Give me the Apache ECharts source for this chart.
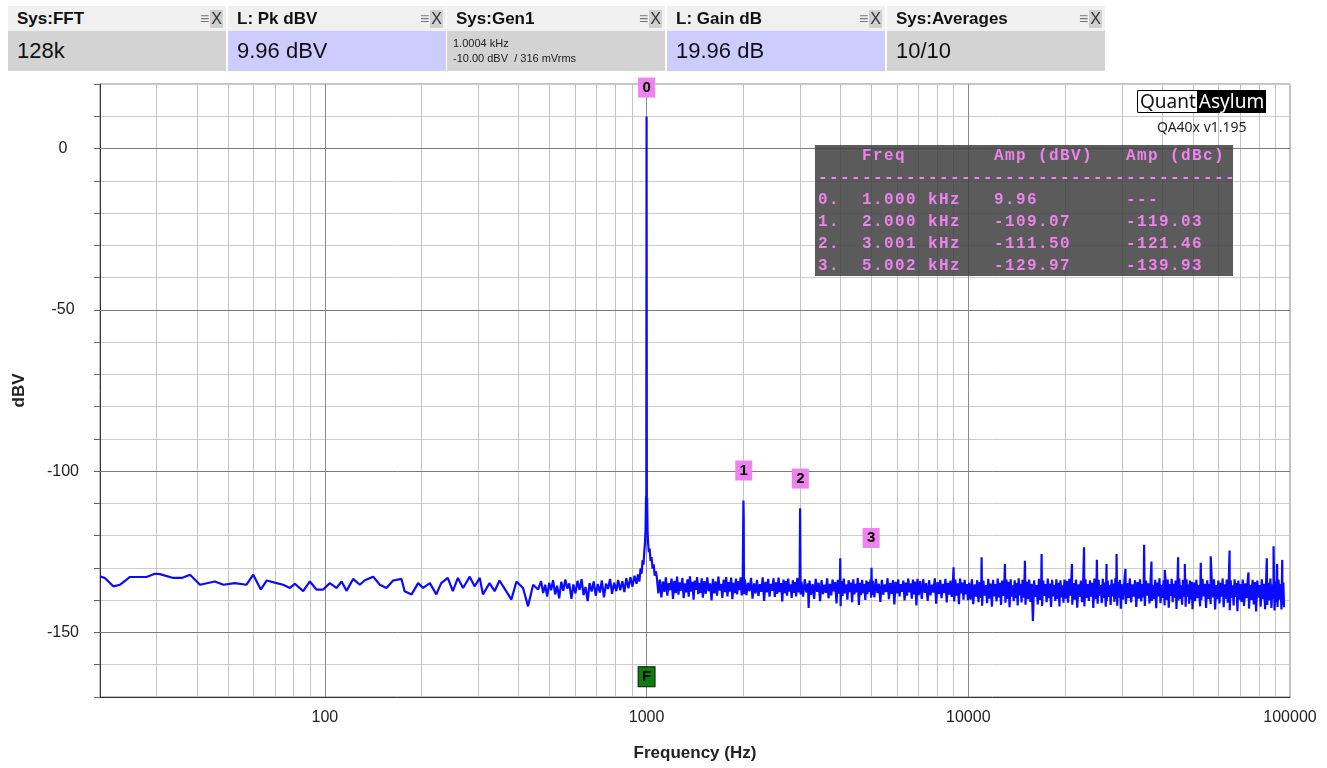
<!DOCTYPE html>
<html><head><meta charset="utf-8">
<script src="https://cdn.jsdelivr.net/npm/echarts@6/dist/echarts.min.js"></script>
<style>
body{margin:0;background:#fff;font-family:"Liberation Sans",Arial,sans-serif;}
#wrap{position:relative;width:1327px;height:768px;overflow:hidden;background:#fff;}
#chart{position:absolute;left:0;top:0;width:1327px;height:768px;}
.panel{position:absolute;top:6px;width:218px;height:65px;}
.ph{height:25px;background:#f0f0f0;position:relative;}
.ph .t{position:absolute;left:9px;top:3px;font-weight:bold;font-size:17px;color:#111;}
.ph .ic{position:absolute;right:3px;top:4px;font-size:16px;color:#777;}
.ph .ic b{display:inline-block;background:#d0d0d0;color:#333;font-weight:normal;padding:0 1px;margin-left:1px;}
.pv{height:40px;background:#d3d3d3;position:relative;}
.pv.blue{background:#ccccff;}
.pv .v{position:absolute;left:9px;top:7px;font-size:22px;color:#111;}
.pv .s{position:absolute;left:6px;top:5px;font-size:11px;line-height:15px;color:#222;}
#table{position:absolute;left:815px;top:145px;width:418px;height:131px;background:rgba(64,64,64,0.86);overflow:hidden;}
#table pre{margin:0;padding:0 0 0 3px;font-family:"Liberation Mono","Courier New",monospace;font-weight:bold;font-size:16px;letter-spacing:1.4px;line-height:22px;color:#ee82ee;}
#logo{position:absolute;left:1137px;top:90px;height:23px;display:flex;font-family:"Noto Sans","Open Sans",sans-serif;font-size:19px;line-height:21px;}
#logo .q{border:1px solid #000;border-right:none;background:#fff;color:#111;padding:0 1px 0 2px;border-radius:2px 0 0 2px;}
#logo .a{background:#000;color:#fff;padding:1px 2px;}
#ver{position:absolute;left:1157px;top:117px;font-family:"Noto Sans","Open Sans",sans-serif;font-size:14px;color:#222;}
</style></head>
<body><div id="wrap">
<div id="chart"></div>
<div id="panels"></div>
<div id="logo"><span class="q">Quant</span><span class="a">Asylum</span></div>
<div id="ver">QA40x v1.195</div>
<div id="table"><pre id="tpre"></pre></div>
</div>
<script>
// ---------- data: [frequency Hz, level dBV] ----------
const lowBand = [[20,-132.6],[20.7,-133.1],[22,-135.7],[23.1,-135.2],[24.8,-132.8],[27.9,-132.8],[29.6,-131.8],[30.7,-131.9],[33.8,-133.1],[35.9,-133.1],[38.1,-132.1],[40.9,-135.2],[45.5,-134.2],[48.4,-135.2],[52.5,-134.7],[57.1,-135.2],[59.9,-132.1],[63.2,-136.7],[65.9,-133.9],[70.8,-134.7],[74.2,-135.2],[77.9,-136.2],[80.7,-134.9],[85.6,-137.2],[89.8,-134.2],[94.2,-136.7],[98.8,-136.7],[103.6,-134.7],[108.7,-136.2],[112.7,-134.2],[116.8,-137.1],[122.4,-133.4],[128.4,-135.2],[133.1,-133.8],[141.3,-132.7],[148.2,-135.2],[155.4,-136.2],[163,-133.9],[173,-133.4],[177,-137.2],[186,-138.2],[195,-134.7],[202,-136.2],[212,-134.7],[222,-138.2],[230,-134.7],[241,-133.1],[250,-137.2],[259,-133.1],[269,-136.2],[282,-132.7],[292,-135.7],[303,-133.1],[310,-138.2],[325,-134.7],[337,-137.2],[349,-133.9],[366,-137.2],[380,-139.8],[394,-134.2],[413,-136.2],[428,-141.9],[444,-135.2],[460,-136.7]];
const midBand = [[470,-134.1],[477,-137.8],[484,-135.2],[491,-138.9],[498,-134.6],[505,-136.9],[512,-133.8],[520,-138.2],[527,-135.5],[535,-139.4],[543,-134.3],[551,-137.1],[559,-133.6],[567,-136.4],[575,-134.8],[584,-139.6],[592,-135.1],[601,-137.9],[610,-134.0],[619,-136.8],[628,-133.5],[637,-138.4],[646,-135.9],[656,-140.3],[665,-134.7],[675,-137.3],[685,-134.2],[695,-138.6],[705,-135.0],[716,-137.6],[726,-133.9],[737,-139.1],[748,-134.9],[759,-136.5],[770,-133.4],[781,-138.0],[793,-134.6],[805,-137.2],[816,-133.7],[828,-136.9],[841,-134.1],[853,-137.5],[865,-133.2],[878,-136.3],[891,-132.9],[904,-135.8],[917,-132.4],[931,-134.9]];
const skirt = [[940,-132.0],[950,-134.2],[958,-130.1],[965,-131.8],[972,-127.6],[978,-129.0],[984,-124.8],[989,-122.0],[993,-117.9],[996,-107.8],[998,-112.5],[1000,9.96],[1002,-113.0],[1004,-108.2],[1007,-118.4],[1011,-122.3],[1016,-125.1],[1022,-124.0],[1029,-127.8],[1036,-126.6],[1044,-130.2],[1052,-128.9],[1060,-132.4],[1068,-131.0]];
const band1k = [[1076,-132.8],[1088,-137.9],[1100,-133.6],[1112,-139.1],[1124,-134.2],[1136,-137.4],[1148,-132.9],[1160,-138.6],[1172,-134.7],[1184,-136.9],[1196,-133.3],[1208,-139.6],[1220,-134.0],[1232,-137.8],[1244,-132.7],[1256,-138.3],[1268,-134.5],[1280,-137.1],[1292,-133.1],[1304,-139.4],[1316,-134.8],[1328,-137.6],[1340,-133.5],[1352,-138.9],[1364,-132.6],[1376,-137.3],[1388,-134.3],[1400,-139.8],[1412,-133.9],[1424,-136.8],[1436,-132.8],[1448,-138.1],[1460,-134.6],[1472,-137.7],[1484,-133.2],[1496,-139.2],[1512,-134.1],[1528,-138.0],[1544,-132.9],[1560,-137.2],[1576,-134.8],[1592,-140.1],[1608,-133.4],[1624,-137.9],[1640,-134.2],[1656,-138.6],[1672,-132.7],[1688,-137.0],[1704,-134.9],[1720,-139.3],[1736,-133.6],[1752,-137.5],[1768,-132.8],[1784,-138.8],[1800,-134.4],[1816,-137.3],[1832,-133.0],[1848,-139.7],[1864,-134.6],[1880,-137.8],[1896,-133.3],[1912,-138.2],[1928,-134.1],[1944,-136.9],[1960,-132.9],[1976,-138.5],[1990,-134.0],[2000,-109.07],[2004,-114.2],[2008,-138.1]];
const band2k = [[2020,-133.5],[2043,-138.4],[2066,-134.6],[2089,-137.2],[2112,-133.1],[2135,-139.5],[2158,-134.8],[2181,-137.9],[2204,-133.7],[2227,-138.7],[2250,-135.0],[2273,-137.4],[2296,-132.9],[2319,-140.2],[2342,-134.3],[2365,-137.6],[2388,-133.4],[2411,-138.9],[2434,-134.9],[2457,-137.1],[2480,-133.2],[2503,-139.0],[2526,-134.5],[2549,-138.0],[2572,-133.0],[2595,-137.5],[2618,-134.7],[2641,-140.4],[2664,-133.6],[2687,-137.8],[2710,-134.1],[2733,-138.6],[2756,-133.3],[2779,-137.3],[2802,-135.1],[2825,-139.3],[2848,-133.8],[2871,-137.7],[2894,-134.4],[2917,-138.8],[2940,-133.1],[2963,-137.6],[2990,-134.6],[3001,-111.5],[3012,-138.2]];
const band3k = [[3030,-134.2],[3066,-138.9],[3102,-133.5],[3138,-137.6],[3174,-134.8],[3190,-142.4],[3210,-133.9],[3246,-138.3],[3282,-135.0],[3318,-139.6],[3354,-133.4],[3390,-137.4],[3426,-134.6],[3462,-140.3],[3498,-133.8],[3534,-138.1],[3570,-135.2],[3606,-137.7],[3642,-133.2],[3678,-139.4],[3714,-134.9],[3750,-138.5],[3786,-133.6],[3822,-137.3],[3858,-134.4],[3894,-141.0],[3930,-133.7],[3966,-138.0],[3990,-134.7],[4000,-127.0],[4010,-141.9],[4030,-134.1],[4066,-138.7],[4102,-133.3],[4138,-137.9],[4174,-135.1],[4210,-139.8],[4246,-133.8],[4282,-137.5],[4318,-134.5],[4354,-140.6],[4390,-133.5],[4426,-138.2],[4462,-134.9],[4498,-137.6],[4534,-133.1],[4570,-141.5],[4606,-134.6],[4642,-138.4],[4678,-133.7],[4714,-137.8],[4750,-135.0],[4786,-139.9],[4822,-133.9],[4858,-138.1],[4894,-134.3],[4930,-137.4],[4966,-133.6],[4990,-139.2],[5002,-129.97],[5020,-138.4]];
const band5k = [[5050,-134.0],[5106,-139.1],[5162,-133.4],[5218,-137.8],[5274,-134.9],[5330,-140.5],[5386,-133.7],[5442,-138.3],[5498,-135.1],[5554,-137.5],[5610,-133.2],[5666,-139.7],[5722,-134.6],[5778,-138.0],[5834,-133.8],[5890,-141.3],[5946,-134.3],[6002,-137.9],[6058,-133.5],[6114,-138.8],[6170,-135.0],[6226,-137.4],[6282,-133.9],[6338,-140.1],[6394,-134.5],[6450,-138.6],[6506,-133.3],[6562,-137.6],[6618,-134.8],[6674,-139.5],[6730,-133.6],[6786,-138.2],[6842,-134.2],[6898,-141.6],[6954,-133.4],[7010,-138.4],[7088,-134.1],[7166,-139.6],[7244,-133.5],[7322,-137.7],[7400,-134.7],[7478,-140.2],[7556,-133.8],[7634,-138.5],[7712,-135.2],[7790,-137.6],[7868,-133.2],[7946,-141.1],[8024,-134.4],[8102,-138.1],[8180,-133.7],[8258,-139.4],[8336,-134.9],[8414,-137.8],[8492,-133.4],[8570,-140.7],[8648,-134.6],[8726,-138.3],[8804,-133.9],[8882,-139.0],[8960,-134.2],[9000,-129.8],[9040,-140.4],[9118,-133.6],[9196,-138.6],[9274,-134.8],[9352,-141.2],[9430,-133.3],[9508,-137.9],[9586,-134.5],[9664,-139.8],[9742,-133.7],[9820,-138.2],[9898,-135.0],[9976,-140.0]];
const band10k = [[10060,-134.6],[10160,-139.8],[10260,-133.5],[10360,-141.2],[10460,-135.1],[10560,-138.9],[10660,-133.8],[10760,-140.6],[10860,-134.4],[10960,-139.3],[11000,-126.7],[11040,-141.7],[11140,-133.9],[11240,-138.6],[11340,-135.3],[11440,-140.9],[11540,-133.4],[11640,-139.5],[11740,-134.8],[11840,-142.0],[11940,-133.7],[12040,-138.8],[12140,-135.0],[12240,-140.4],[12340,-133.3],[12440,-139.1],[12540,-134.6],[12640,-141.5],[12740,-133.9],[12840,-138.7],[12940,-135.2],[13000,-128.8],[13040,-140.8],[13140,-133.6],[13240,-139.6],[13340,-134.3],[13440,-142.2],[13540,-133.5],[13640,-138.9],[13740,-135.4],[13840,-140.3],[13940,-133.8],[14040,-139.4],[14140,-134.7],[14240,-141.6],[14340,-133.2],[14440,-138.5],[14540,-134.9],[14640,-140.7],[14740,-133.7],[14840,-139.2],[14940,-135.1],[15000,-127.8],[15060,-141.4],[15180,-134.2],[15320,-139.7],[15460,-133.6],[15600,-140.5],[15740,-134.9],[15880,-146.4],[16020,-133.8],[16160,-139.0],[16300,-135.3],[16440,-141.3],[16580,-133.4],[16720,-139.9],[16860,-134.5],[16900,-125.7],[16960,-141.8],[17100,-133.9],[17240,-138.7],[17380,-135.0],[17520,-140.6],[17660,-133.3],[17800,-139.4],[17940,-134.8],[18080,-142.1],[18220,-133.7],[18360,-138.8],[18500,-135.2],[18640,-140.2],[18780,-133.5],[18920,-139.6],[19060,-134.6],[19200,-141.9],[19340,-133.8],[19480,-139.1],[19620,-135.4],[19760,-140.8],[19900,-133.6]];
const band20k = [[20040,-139.5],[20230,-134.0],[20420,-140.8],[20610,-133.4],[20800,-138.6],[21000,-128.8],[21050,-141.4],[21240,-134.7],[21430,-139.8],[21620,-133.6],[21810,-142.3],[22000,-135.1],[22190,-139.0],[22380,-133.9],[22570,-140.6],[22760,-134.4],[22900,-123.6],[22950,-141.9],[23140,-133.5],[23330,-139.3],[23520,-135.0],[23710,-140.2],[23900,-133.8],[24090,-138.9],[24280,-134.6],[24470,-142.4],[24660,-133.3],[24850,-139.7],[25040,-134.9],[25100,-127.5],[25230,-141.1],[25420,-133.7],[25610,-138.7],[25800,-135.3],[25990,-140.9],[26180,-133.4],[26370,-139.4],[26560,-134.5],[26750,-142.0],[26900,-128.8],[26940,-140.3],[27130,-133.9],[27320,-139.0],[27510,-135.2],[27700,-141.5],[27890,-133.6],[28080,-138.8],[28270,-134.8],[28460,-140.5],[28650,-133.2],[28840,-139.6],[28900,-125.7],[29030,-141.7],[29220,-134.3],[29410,-139.2],[29600,-133.7],[29790,-142.6],[29980,-135.0],[30280,-139.8],[30580,-133.6],[30800,-130.3],[30880,-141.2],[31180,-134.7],[31480,-139.4],[31780,-133.3],[32080,-140.7],[32380,-135.1],[32680,-138.9],[32980,-133.8],[33280,-142.1],[33580,-134.4],[33880,-139.5],[34180,-133.5],[34480,-140.4],[34780,-135.0],[35080,-139.1],[35200,-122.8],[35380,-141.8],[35680,-133.9],[35980,-138.6],[36280,-134.8],[36580,-141.0],[36880,-133.4],[37100,-128.0],[37180,-140.2],[37480,-135.2],[37780,-139.7],[38080,-133.7],[38380,-142.5],[38680,-134.5],[38980,-138.8],[39280,-133.2],[39580,-140.9],[39880,-135.3],[40180,-139.3],[40480,-133.8],[40780,-141.6],[40800,-130.6],[41080,-134.2],[41380,-139.9],[41680,-133.6],[41980,-142.3],[42280,-135.0],[42580,-138.7],[42880,-133.4],[43180,-140.6],[43480,-134.9],[43780,-139.2],[44080,-133.9],[44380,-142.7],[44680,-134.6],[44900,-126.7],[44980,-140.1],[45280,-133.3],[45580,-139.6],[45880,-135.4],[46180,-141.4],[46480,-133.7],[46780,-139.0],[47080,-134.8],[47100,-128.8],[47380,-142.0],[47680,-133.5],[47980,-138.9],[48280,-135.1],[48580,-141.1],[48880,-133.9],[49180,-139.8],[49480,-134.3],[49780,-142.8]];
const band50k = [[50240,-134.5],[50700,-140.3],[51160,-133.7],[51620,-139.4],[52080,-135.2],[52540,-141.9],[52800,-128.4],[53000,-140.0],[53460,-133.4],[53920,-138.8],[54380,-134.9],[54840,-142.4],[55300,-133.8],[55760,-139.6],[56220,-135.0],[56680,-141.2],[56700,-126.4],[57140,-134.1],[57600,-139.1],[58060,-133.5],[58520,-142.9],[58980,-135.3],[59440,-139.7],[59900,-133.9],[60360,-141.0],[60820,-134.6],[61280,-138.9],[61740,-133.3],[62200,-142.2],[62660,-135.1],[63120,-139.5],[63580,-133.6],[64040,-140.8],[64500,-134.4],[64900,-124.6],[64960,-143.1],[65420,-133.8],[65880,-139.3],[66340,-135.4],[66800,-141.6],[67260,-133.5],[67720,-139.0],[68180,-134.7],[68640,-143.4],[69100,-133.9],[69560,-139.8],[70020,-135.0],[70670,-140.5],[71320,-133.6],[71970,-141.8],[72620,-134.8],[73270,-139.4],[73920,-133.4],[74300,-131.4],[74570,-142.6],[75220,-135.2],[75870,-139.9],[76520,-133.7],[77170,-141.3],[77820,-134.4],[78470,-143.5],[79120,-133.9],[79770,-139.2],[80420,-135.3],[81070,-142.0],[81720,-133.5],[82370,-139.7],[83020,-134.9],[83670,-142.8],[84320,-133.8],[84700,-127.0],[84970,-141.5],[85620,-134.6],[86270,-140.1],[86920,-133.3],[87570,-142.4],[88220,-135.1],[88870,-139.6],[88900,-123.3],[89520,-143.2],[90170,-134.2],[90820,-140.7],[91200,-128.8],[91470,-142.1],[92120,-133.6],[92770,-139.8],[93420,-135.0],[94070,-142.9],[94600,-127.5],[94720,-141.3],[95370,-134.5],[95800,-142.2]];

const markerLabels = ['0','1','2','3','F'];
const markerFreqs  = [1000, 2005, 3006, 4990, 1000];
const markerDbv    = [18.9, -99.8, -102.3, -120.7, -163.7];

const minorFreqs = [30,40,50,60,70,80,90,200,300,400,500,600,700,800,900,2000,3000,4000,5000,6000,7000,8000,9000,20000,30000,40000,50000,60000,70000,80000,90000];
const decadeFreqs = [100,1000,10000];
const xTickLabels = [100,1000,10000,100000];
const majorDbv = [-150,-100,-50,0];

const tableIdx  = ['0.','1.','2.','3.'];
const tableFreq = ['1.000','2.000','3.001','5.002'];
const tableDbv  = ['9.96','-109.07','-111.50','-129.97'];
const tableDbc  = ['---','-119.03','-121.46','-139.93'];

const panelTitles = ['Sys:FFT','L: Pk dBV','Sys:Gen1','L: Gain dB','Sys:Averages'];
const panelValues = ['128k','9.96 dBV','','19.96 dB','10/10'];
const genLines = ['1.0004 kHz','-10.00 dBV &nbsp;/ 316 mVrms'];

// ---------- header panels ----------
const panelLeft = [8,228,447,667,887];
const panelBlue = [false,true,false,true,false];
let ph = '';
panelTitles.forEach((t,i)=>{
  const val = i===2 ? `<div class="s">${genLines[0]}<br>${genLines[1]}</div>` : `<div class="v">${panelValues[i]}</div>`;
  ph += `<div class="panel" style="left:${panelLeft[i]}px"><div class="ph"><span class="t">${t}</span><span class="ic">&#8801;<b>X</b></span></div><div class="pv${panelBlue[i]?' blue':''}">${val}</div></div>`;
});
document.getElementById('panels').innerHTML = ph;

// ---------- harmonic table ----------
function pad(s,n){ while(s.length<n) s+=' '; return s; }
let lines = [];
lines.push(pad('',4)+pad('Freq',12)+pad('Amp (dBV)',12)+'Amp (dBc)');
lines.push('-'.repeat(38));
tableIdx.forEach((k,i)=>{
  lines.push(pad(k,4)+pad(tableFreq[i]+' kHz',12)+pad(tableDbv[i],12)+tableDbc[i]);
});
document.getElementById('tpre').textContent = lines.join('\n');

// ---------- chart ----------
const spectrum = [].concat(lowBand, midBand, skirt, band1k, band2k, band3k, band5k, band10k, band20k, band50k);
const chart = echarts.init(document.getElementById('chart'));
const gridLines = []
  .concat(minorFreqs.map(f=>({xAxis:f, lineStyle:{color:'#c4c4c4'}})))
  .concat(decadeFreqs.map(f=>({xAxis:f, lineStyle:{color:'#8a8a8a'}})))
  .concat(majorDbv.map(v=>({yAxis:v, lineStyle:{color:'#7a7a7a'}})));

chart.setOption({
  animation:false,
  grid:{left:100,right:37,top:84,bottom:71,show:true,borderColor:'#888',borderWidth:1,backgroundColor:'transparent'},
  xAxis:{
    type:'log', logBase:10, min:20, max:100000,
    name:'Frequency (Hz)', nameLocation:'middle', nameGap:48,
    nameTextStyle:{fontWeight:'bold',fontSize:17,color:'#222',fontFamily:'Liberation Sans'},
    axisLine:{show:true,onZero:false,lineStyle:{color:'#333'}},
    axisTick:{show:false}, splitLine:{show:false},
    axisLabel:{fontSize:16,color:'#222',margin:13,fontFamily:'Liberation Sans',
      formatter:v=>xTickLabels.indexOf(Math.round(v))>=0 ? String(Math.round(v)) : ''}
  },
  yAxis:{
    type:'value', min:-170, max:20, interval:10,
    name:'dBV', nameLocation:'middle', nameGap:72,
    nameTextStyle:{fontWeight:'bold',fontSize:17,color:'#222',fontFamily:'Liberation Sans'},
    axisLine:{show:true,lineStyle:{color:'#333'}},
    axisTick:{show:true,length:6,lineStyle:{color:'#666'}},
    axisLabel:{fontSize:16,color:'#222',align:'center',margin:37,fontFamily:'Liberation Sans',
      formatter:v=> (v%50===0 ? String(v) : '')},
    splitLine:{show:true,lineStyle:{color:'#cccccc',width:1}}
  },
  series:[
    {
      type:'line', data:[[20,-170]], showSymbol:false, lineStyle:{opacity:0}, z:1, silent:true,
      markLine:{silent:true, z:1, symbol:['none','none'], label:{show:false}, animation:false,
        lineStyle:{type:'solid',width:1}, data:gridLines}
    },
    {
      type:'line', data:spectrum, showSymbol:false, z:3, silent:true,
      lineStyle:{color:'#0a0aff',width:2.2,join:'bevel'},
      markPoint:{
        symbol:'rect', symbolSize:[17,20], silent:true, animation:false, z:6,
        label:{show:true,position:'inside',color:'#000',fontWeight:'bold',fontSize:15,fontFamily:'Liberation Sans',formatter:'{b}'},
        data: markerLabels.map((lab,i)=>({
          name:lab, coord:[markerFreqs[i], markerDbv[i]],
          itemStyle: lab==='F' ? {color:'#0b7d0b',borderColor:'#111',borderWidth:1} : {color:'#ee82ee'}
        }))
      }
    }
  ]
});
</script>
</body></html>
